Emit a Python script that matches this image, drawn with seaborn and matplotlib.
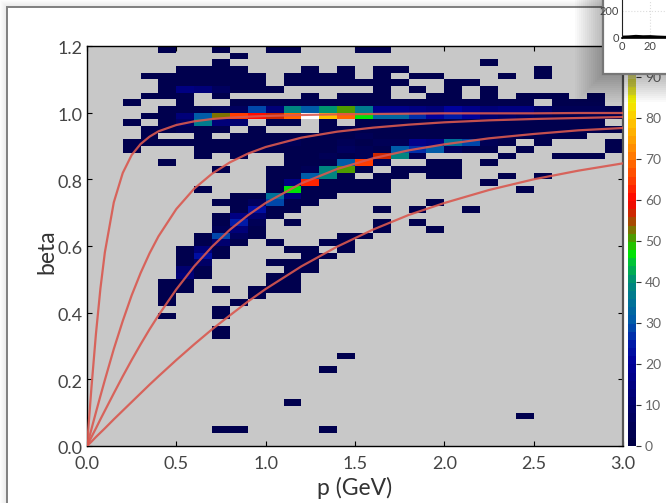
import numpy as np
import matplotlib
matplotlib.use("Agg")
import matplotlib.pyplot as plt
from matplotlib.colors import LinearSegmentedColormap
from matplotlib.patches import Rectangle
from matplotlib.transforms import ScaledTranslation
import seaborn as sns

# Bin edges of the 2D histogram
p_edges = [round(0.1 * i, 1) for i in range(31)]
beta_edges = [round(0.02 * i, 2) for i in range(61)]

# Counts, one row per beta bin from beta=1.20 downwards, 30 p bins per row
counts_top = [
 [0,0,0,0,2,0,0,2,0,0,2,2,0,0,0,2,2,0,0,0,0,0,0,0,0,0,0,0,0,0],
 [0,0,0,0,0,0,0,0,2,0,0,0,0,0,0,0,0,0,0,0,0,0,0,0,0,0,0,0,0,0],
 [0,0,0,0,0,0,0,2,0,0,0,0,0,0,0,0,0,0,0,0,0,0,2,0,0,0,0,0,0,0],
 [0,0,0,0,0,2,2,2,2,0,0,0,2,0,2,0,2,2,0,0,0,0,0,0,0,2,0,0,0,0],
 [0,0,0,2,2,3,3,2,2,2,0,2,2,2,2,0,2,0,2,2,0,0,0,2,0,2,0,0,0,0],
 [0,0,0,0,2,2,3,2,3,2,0,2,2,2,2,2,2,3,0,0,2,2,0,0,0,0,0,0,0,0],
 [0,0,0,0,2,14,12,6,3,2,2,0,0,0,0,0,2,0,2,0,2,0,2,0,0,0,0,0,0,0],
 [0,0,0,2,2,3,0,2,0,0,0,0,2,0,2,2,2,0,0,2,2,0,2,0,2,2,2,0,2,0],
 [0,0,2,0,0,3,0,0,2,2,2,2,2,2,2,2,2,2,2,2,2,2,2,2,2,0,2,2,2,0],
 [0,0,0,0,2,3,3,4,6,28,12,38,31,40,50,36,16,16,14,12,20,16,12,14,14,8,4,4,5,3],
 [0,0,0,2,3,12,30,53,64,61,57,68,100,79,68,47,33,33,27,20,24,20,10,8,6,5,3,3,3,2],
 [0,0,2,0,3,8,36,12,10,0,2,3,0,3,0,3,3,2,3,2,3,3,2,3,2,2,2,2,2,0],
 [0,0,0,2,3,4,3,2,0,2,0,0,0,2,2,3,3,2,3,2,3,2,3,2,3,2,3,2,2,2],
 [0,0,0,2,0,0,2,0,2,2,2,2,3,3,3,4,3,3,2,3,2,3,2,3,2,2,2,2,0,0],
 [0,0,2,2,2,2,3,3,2,3,3,4,3,3,5,3,4,4,16,14,34,28,5,3,0,2,0,0,0,2],
]
counts_mid = [
 [0,0,2,0,0,0,2,2,2,2,3,3,3,3,6,4,3,30,26,30,6,3,2,0,2,0,0,0,0,2],
 [0,0,0,0,0,0,2,0,2,0,0,2,3,4,3,4,56,38,5,0,0,0,0,2,0,0,2,2,2,0],
 [0,0,0,0,2,0,0,0,0,0,0,2,3,3,30,64,5,0,0,2,2,0,2,0,0,0,0,0,0,0],
 [0,0,0,0,0,0,0,2,0,0,2,3,4,38,50,3,0,2,2,2,2,0,0,0,0,0,0,0,0,0],
 [0,0,0,0,0,0,0,0,0,0,2,3,30,38,2,0,2,2,0,2,2,0,0,2,0,2,0,0,0,0],
 [0,0,0,0,0,0,0,0,0,0,2,15,62,3,2,2,2,0,0,0,0,0,2,0,0,0,0,0,0,0],
 [0,0,0,0,0,0,2,0,0,0,2,47,3,2,2,2,2,0,0,0,0,0,0,0,2,0,0,0,0,0],
 [0,0,0,0,0,0,0,0,2,3,35,12,2,2,0,0,0,0,0,0,0,0,0,0,0,0,0,0,0,0],
 [0,0,0,0,0,0,0,2,2,6,28,3,2,0,0,0,0,0,0,2,0,0,0,0,0,0,0,0,0,0],
 [0,0,0,0,0,0,0,0,2,22,3,2,0,0,0,0,2,0,2,0,0,2,0,0,0,0,0,0,0,0],
 [0,0,0,0,0,0,0,2,15,10,2,0,0,0,0,0,0,0,0,0,0,0,0,0,0,0,0,0,0,0],
 [0,0,0,0,0,0,0,3,25,4,0,2,0,0,0,0,2,0,2,0,0,0,0,0,0,0,0,0,0,0],
 [0,0,0,0,0,0,0,5,12,3,0,0,0,0,0,0,2,0,0,2,0,0,0,0,0,0,0,0,0,0],
 [0,0,0,0,0,0,3,28,6,3,0,0,0,0,2,2,0,0,0,0,0,0,0,0,0,0,0,0,0,0],
 [0,0,0,0,0,0,3,10,3,0,2,0,0,2,2,0,0,0,0,0,0,0,0,0,0,0,0,0,0,0],
]
counts_low = [
 [0,0,0,0,0,2,12,3,0,0,0,2,2,0,2,0,0,0,0,0,0,0,0,0,0,0,0,0,0,0],
 [0,0,0,0,0,3,22,2,0,0,0,0,2,2,0,0,0,0,0,0,0,0,0,0,0,0,0,0,0,0],
 [0,0,0,0,0,3,8,0,0,0,2,2,2,0,0,0,0,0,0,0,0,0,0,0,0,0,0,0,0,0],
 [0,0,0,0,0,10,3,0,0,0,0,2,2,0,0,0,0,0,0,0,0,0,0,0,0,0,0,0,0,0],
 [0,0,0,0,0,12,3,0,0,0,2,2,0,0,0,0,0,0,0,0,0,0,0,0,0,0,0,0,0,0],
 [0,0,0,0,2,3,0,0,0,0,2,2,0,0,0,0,0,0,0,0,0,0,0,0,0,0,0,0,0,0],
 [0,0,0,0,2,2,0,2,0,2,2,2,0,0,0,0,0,0,0,0,0,0,0,0,0,0,0,0,0,0],
 [0,0,0,0,3,0,0,0,0,2,0,0,0,0,0,0,0,0,0,0,0,0,0,0,0,0,0,0,0,0],
 [0,0,0,0,3,0,0,0,2,0,0,0,0,0,0,0,0,0,0,0,0,0,0,0,0,0,0,0,0,0],
 [0,0,0,0,0,0,0,2,0,0,0,0,0,0,0,0,0,0,0,0,0,0,0,0,0,0,0,0,0,0],
 [0,0,0,0,2,0,0,2,0,0,0,0,0,0,0,0,0,0,0,0,0,0,0,0,0,0,0,0,0,0],
 [0,0,0,0,0,0,0,0,0,0,0,0,0,0,0,0,0,0,0,0,0,0,0,0,0,0,0,0,0,0],
 [0,0,0,0,0,0,0,2,0,0,0,0,0,0,0,0,0,0,0,0,0,0,0,0,0,0,0,0,0,0],
 [0,0,0,0,0,0,0,2,0,0,0,0,0,0,0,0,0,0,0,0,0,0,0,0,0,0,0,0,0,0],
]
# Isolated low-beta bins: top-down row number, p bin, count
sparse_rows = [46, 48, 53, 55, 57, 57, 57]
sparse_cols = [14, 13, 11, 24, 7, 8, 13]
sparse_vals = [2, 2, 2, 2, 2, 2, 2]

# Red band curves
curve_p = [0, .025, .05, .075, .1, .15, .2, .25, .3, .35, .4, .5, .6, .7, .8, .9, 1,
           1.2, 1.4, 1.6, 1.8, 2, 2.25, 2.5, 2.75, 3]
curve_a = [0, .176, .336, .472, .581, .731, .819, .873, .906, .928, .944, .963, .974, .981,
           .985, .988, .990, .993, .995, .996, .997, .998, .998, .998, .999, .999]
curve_b = [0, .051, .101, .150, .198, .291, .375, .452, .519, .578, .629, .711, .772, .817,
           .851, .877, .897, .925, .943, .955, .964, .971, .977, .981, .984, .987]
curve_c = [0, .027, .053, .080, .106, .158, .209, .258, .305, .350, .392, .470, .539, .598,
           .649, .692, .729, .788, .831, .863, .887, .905, .923, .936, .947, .954]
curve_d = [0, .013, .027, .040, .053, .080, .106, .132, .158, .184, .209, .258, .305, .350,
           .392, .433, .471, .539, .598, .649, .693, .729, .768, .800, .826, .848]

# Inset histogram
inset_x = [0, 5, 10, 15, 20, 25, 30, 35, 40]
inset_y = [6, 8, 12, 9, 10, 7, 5, 4, 3]

x_ticks = [0.0, 0.5, 1.0, 1.5, 2.0, 2.5, 3.0]
y_ticks = [0.0, 0.2, 0.4, 0.6, 0.8, 1.0, 1.2]
cbar_ticks = [0, 10, 20, 30, 40, 50, 60, 70, 80, 90]

W, H = 666, 503
sns.set_theme(style="ticks")
plt.rcParams["font.family"] = ["Lato", "DejaVu Sans"]


def frac(x0, y0, x1, y1):
    return [x0 / W, 1 - y1 / H, (x1 - x0) / W, (y1 - y0) / H]


def rgb(r, g, b):
    return (r / 255, g / 255, b / 255)


cmap = LinearSegmentedColormap.from_list("hist", [
    (0.000, rgb(0, 0, 70)), (0.103, rgb(0, 0, 110)), (0.205, rgb(0, 0, 155)),
    (0.256, rgb(0, 30, 170)), (0.308, rgb(0, 90, 170)),
    (0.359, rgb(0, 115, 150)), (0.410, rgb(0, 140, 120)),
    (0.462, rgb(0, 200, 50)), (0.482, rgb(0, 230, 0)),
    (0.513, rgb(60, 170, 0)), (0.544, rgb(130, 110, 0)),
    (0.574, rgb(190, 50, 0)), (0.615, rgb(255, 0, 0)),
    (0.667, rgb(255, 60, 0)), (0.718, rgb(255, 110, 0)), (0.769, rgb(255, 160, 0)),
    (0.821, rgb(255, 200, 0)), (0.872, rgb(240, 240, 0)),
    (0.923, rgb(200, 200, 80)), (1.000, rgb(255, 255, 255)),
], N=49)

fig = plt.figure(figsize=(W / 100, H / 100), dpi=100, facecolor="white")

# Window frame behind everything
bg = fig.add_axes([0, 0, 1, 1], zorder=-5)
bg.set_axis_off()
bg.set_xlim(0, W)
bg.set_ylim(H, 0)
for s in range(7):
    bg.add_patch(Rectangle((s, s), W, H, fc="black", alpha=0.012, lw=0))
bg.add_patch(Rectangle((7, 7), W, H, fc="white", ec="#808080", lw=1.4))

ax = fig.add_axes(frac(87, 46, 623, 446), facecolor="#c8c8c8", zorder=1)
cax = fig.add_axes(frac(627.5, 46, 636, 446), zorder=1)

rows = counts_top + counts_mid + counts_low
matrix = np.zeros((60, 30))
matrix[:len(rows), :] = np.array(rows, dtype=float)
for r, c, v in zip(sparse_rows, sparse_cols, sparse_vals):
    matrix[r, c] = v
rr, cc = np.nonzero(matrix)
pc = (np.array(p_edges)[cc] + np.array(p_edges)[cc + 1]) / 2
bc = (np.array(beta_edges)[59 - rr] + np.array(beta_edges)[60 - rr]) / 2

sns.histplot(x=pc, y=bc, weights=matrix[rr, cc], bins=[p_edges, beta_edges], cmap=cmap,
             vmin=0, vmax=97.5, ax=ax, cbar=True, cbar_ax=cax)

for curve in (curve_a, curve_b, curve_c, curve_d):
    sns.lineplot(x=curve_p, y=curve, ax=ax, color="#d9584f", lw=1.6, alpha=0.9,
                 errorbar=None, sort=False, zorder=5)

ax.set_xlim(0, 3)
ax.set_ylim(0, 1.2)
ax.set_xticks(x_ticks)
ax.set_yticks(y_ticks)
ax.set_xticklabels([f"{v:.1f}" for v in x_ticks])
ax.set_yticklabels([f"{v:.1f}" for v in y_ticks])
ax.tick_params(direction="in", length=3.5, width=0.8, color="black", labelsize=13,
               labelcolor="#444444", top=True, right=True)
ax.tick_params(axis="x", pad=7)
ax.tick_params(axis="y", pad=3)
shift_down = ScaledTranslation(0, -2 / 100, fig.dpi_scale_trans)
for label in ax.get_yticklabels():
    label.set_transform(label.get_transform() + shift_down)
ax.set_xlabel("p (GeV)", fontsize=16.5, color="#333333", labelpad=4)
ax.set_ylabel("beta", fontsize=16.5, color="#333333", labelpad=0)
ax.yaxis.set_label_coords(-0.056, 0.485)
for side in ax.spines:
    ax.spines[side].set_visible(True)
    ax.spines[side].set_linewidth(1.0)
    ax.spines[side].set_color("black")
ax.spines["right"].set_color("#555555")
ax.spines["right"].set_linewidth(1.6)

cax.set_yticks(cbar_ticks)
cax.tick_params(axis="y", right=True, length=3.5, width=0.8, color="#333333", labelsize=10,
                labelcolor="#666666", pad=3)
for side in cax.spines:
    cax.spines[side].set_visible(False)

# Soft shadow around the floating inset window, then the window itself
over = fig.add_axes([0, 0, 1, 1], zorder=2, facecolor="none")
over.set_axis_off()
over.set_xlim(0, W)
over.set_ylim(H, 0)
for s in range(1, 15):
    d = s * 2
    over.add_patch(Rectangle((603 - d, -10), 200, 84 + d, fc="black", alpha=0.02, lw=0))
over.add_patch(Rectangle((603, -10), 200, 84, fc="white", ec="#777777", lw=1.6))

ins = fig.add_axes(frac(621.7, 0, 720, 38), zorder=3, facecolor="white")
sns.lineplot(x=inset_x, y=inset_y, ax=ins, color="black", lw=2.2, errorbar=None)
ins.set_xlim(0, 69.2)
ins.set_ylim(0, 281)
ins.set_xticks([0, 20])
ins.set_yticks([0, 200])
ins.grid(True, color="#dddddd", ls=":", lw=0.8)
ins.tick_params(length=0, labelsize=8, labelcolor="#444444", pad=2)
for side in ("top", "right"):
    ins.spines[side].set_visible(False)
ins.spines["left"].set_color("#222222")
ins.spines["left"].set_linewidth(0.8)
ins.spines["bottom"].set_color("black")
ins.spines["bottom"].set_linewidth(1.2)

fig.savefig("out.png", dpi=100)
